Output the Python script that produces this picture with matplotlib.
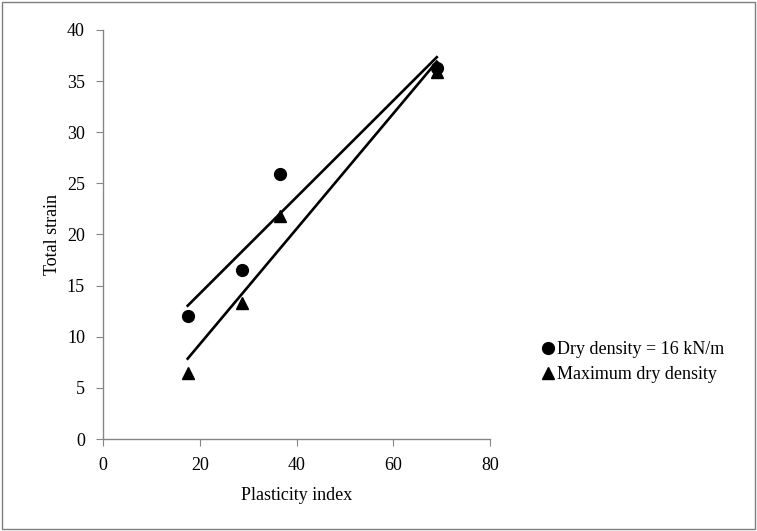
import numpy as np
import matplotlib
matplotlib.use('Agg')
import matplotlib.pyplot as plt
from matplotlib.patches import Rectangle

plt.rcParams['font.family'] = ['Liberation Serif', 'DejaVu Serif']

# Data
plasticity = [17.5, 28.7, 36.5, 69.0]
strain_16kn = [12.0, 16.5, 25.9, 36.3]
strain_maxdd = [6.5, 13.3, 21.8, 35.9]

x_ticks = [0, 20, 40, 60, 80]
y_ticks = [0, 5, 10, 15, 20, 25, 30, 35, 40]

fig = plt.figure(figsize=(7.57, 5.31), dpi=100)
ax = fig.add_axes([103 / 757, 1 - 439 / 531, (490 - 103) / 757, (439 - 30) / 531])

# scatter points
ax.plot(plasticity, strain_16kn, 'o', color='black', markersize=8.5,
        label='Dry density = 16 kN/m', zorder=3)
ax.plot(plasticity, strain_maxdd, '^', color='black', markersize=8.5,
        label='Maximum dry density', zorder=3)

# linear trendlines
for ys in (strain_16kn, strain_maxdd):
    k, b = np.polyfit(plasticity, ys, 1)
    xs = np.array([min(plasticity), max(plasticity)])
    ax.plot(xs, k * xs + b, '-', color='black', linewidth=1.9, zorder=2)

ax.set_xlim(0, 80)
ax.set_ylim(0, 40)
ax.set_xticks(x_ticks)
ax.set_yticks(y_ticks)
ax.set_xlabel('Plasticity index', fontsize=13, labelpad=9)
ax.set_ylabel('Total strain', fontsize=13, labelpad=4)

for side in ('top', 'right'):
    ax.spines[side].set_visible(False)
for side in ('left', 'bottom'):
    ax.spines[side].set_color('#868686')
    ax.spines[side].set_linewidth(1)
ax.tick_params(direction='out', length=5, color='#868686', labelsize=13, pad=8)

fig.legend(loc='center left', bbox_to_anchor=(0.703, 0.318), frameon=False,
           fontsize=13, handletextpad=0.0, handlelength=1.0, labelspacing=0.45,
           borderaxespad=0)

# outer frame
fig.patches.append(Rectangle((0.003, 0.003), 0.994, 0.994, transform=fig.transFigure,
                             fill=False, edgecolor='#7f7f7f', linewidth=1))

fig.savefig('out.png', dpi=100)
